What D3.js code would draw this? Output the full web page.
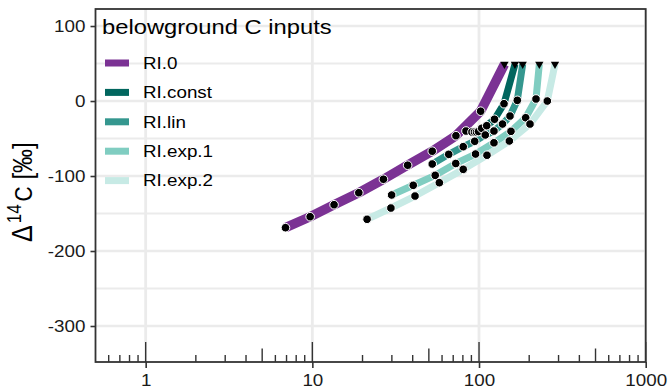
<!DOCTYPE html>
<html><head><meta charset="utf-8">
<script src="https://cdn.jsdelivr.net/npm/d3@7"></script>
<style>
body{margin:0;background:#fff;}
svg{display:block;font-family:"Liberation Sans",Arial,Helvetica,sans-serif;}
</style>
</head><body>
<svg id="chart" width="669" height="392"></svg>
<script>
// ---- data ----
const seriesNames = ["RI.0", "RI.const", "RI.lin", "RI.exp.1", "RI.exp.2"];
const seriesColors = ["#7b3294", "#01665e", "#35978f", "#80cdc1", "#c7eae5"];

const ageRI0      = [6.9, 9.7, 13.5, 19.0, 26.7, 37.3, 52.4, 72.7, 102.3];
const d14cRI0     = [-168.9, -154.3, -138.3, -122.3, -104.3, -85.6, -66.9, -46.3, -13.6];
const ageRIconst  = [83.5, 90.7, 93.9, 96.6, 99.3, 103.8, 111.2, 123.8, 141.2];
const d14cRIconst = [-40.0, -41.3, -41.3, -41.3, -40.7, -36.4, -32.9, -24.3, -3.6];
const ageRIlin    = [52.4, 65.8, 80.4, 94.2, 109.0, 122.9, 138.3, 153.4, 169.7];
const d14cRIlin   = [-84.0, -71.1, -60.9, -53.7, -45.3, -40.0, -30.7, -20.0, 0.9];
const ageRIexp1   = [29.9, 40.3, 54.6, 72.5, 95.3, 122.9, 155.5, 190.5, 219.7];
const d14cRIexp1  = [-125.3, -112.4, -99.1, -83.3, -70.7, -55.7, -40.4, -22.3, 2.7];
const ageRIexp2   = [21.3, 29.6, 41.3, 57.8, 80.4, 111.6, 152.0, 202.2, 256.8];
const d14cRIexp2  = [-157.7, -142.7, -126.7, -108.9, -91.1, -72.3, -53.3, -30.7, 0.0];

// end markers (triangles)
const endAge  = [142.1, 164.3, 182.8, 230.0, 285.6];
const endD14C = [49, 49, 49, 49, 49];

const xTicks = [1, 10, 100, 1000];
const yTicks = [100, 0, -100, -200, -300];
const yMinorGrid = [50, -50, -150, -250];

const ages = [ageRI0, ageRIconst, ageRIlin, ageRIexp1, ageRIexp2];
const d14cs = [d14cRI0, d14cRIconst, d14cRIlin, d14cRIexp1, d14cRIexp2];
const series = seriesNames.map((name, i) => ({
  name, color: seriesColors[i],
  points: ages[i].map((a, j) => ({age: a, d14c: d14cs[i][j]})),
  end: {age: endAge[i], d14c: endD14C[i]}
}));

// ---- layout ----
const SX = 1.176; // horizontal glyph stretch of the reference rendering
const svg = d3.select("#chart");
const L = 95.5, R = 645.7, T = 9, B = 362;
const x = d3.scaleLog().domain([0.5, 1000]).range([L, R]);
const y = d3.scaleLinear().domain([-348, 122.7]).range([B, T]);

function stretch(sel) {
  sel.each(function () {
    const t = d3.select(this);
    const tx = +t.attr("x") || 0, ty = +t.attr("y") || 0;
    t.attr("x", 0).attr("y", 0).attr("transform", `translate(${tx},${ty}) scale(${SX},1)`);
  });
}

const grid = svg.append("g");
grid.selectAll("line.ymin").data(yMinorGrid).join("line")
  .attr("x1", L).attr("x2", R).attr("y1", d => y(d)).attr("y2", d => y(d))
  .attr("stroke", "#ebebeb").attr("stroke-width", 2.2);
grid.selectAll("line.ymaj").data(yTicks).join("line")
  .attr("x1", L).attr("x2", R).attr("y1", d => y(d)).attr("y2", d => y(d))
  .attr("stroke", "#ebebeb").attr("stroke-width", 2.6);
grid.selectAll("line.xmaj").data(xTicks).join("line")
  .attr("y1", T).attr("y2", B).attr("x1", d => x(d)).attr("x2", d => x(d))
  .attr("stroke", "#ebebeb").attr("stroke-width", 2.8);

// ---- series lines ----
const line = d3.line().x(d => x(d.age)).y(d => y(d.d14c));
const lineWidths = [9.5, 7, 7, 7, 7];
svg.append("g").selectAll("path").data(series).join("path")
  .attr("d", s => line([...s.points, s.end]))
  .attr("fill", "none")
  .attr("stroke", s => s.color)
  .attr("stroke-width", (s, i) => lineWidths[i])
  .attr("stroke-linejoin", "round");

// ---- points ----
const pts = svg.append("g");
series.forEach(s => {
  pts.append("g").selectAll("circle").data(s.points).join("circle")
    .attr("cx", d => x(d.age)).attr("cy", d => y(d.d14c)).attr("r", 4.3)
    .attr("fill", "#000").attr("stroke", "#fff").attr("stroke-width", 1);
});
// triangles
const tri = d3.symbol().type(d3.symbolTriangle).size(30);
svg.append("g").selectAll("path").data(series).join("path")
  .attr("d", tri)
  .attr("transform", s => `translate(${x(s.end.age)},${y(s.end.d14c)}) rotate(180)`)
  .attr("fill", "#000");

// ---- log ticks inside panel ----
const logTicks = [];
for (let e = -1; e <= 3; e++) {
  for (let k = 1; k <= 9; k++) {
    const v = k * Math.pow(10, e);
    if (v > 0.5 && v <= 1000) logTicks.push({v, len: k === 1 ? 20 : (k === 5 ? 13.5 : 7)});
  }
}
svg.append("g").selectAll("line").data(logTicks).join("line")
  .attr("x1", d => x(d.v)).attr("x2", d => x(d.v))
  .attr("y1", B).attr("y2", d => B - d.len)
  .attr("stroke", "#333").attr("stroke-width", 1.4);

// ---- panel border ----
svg.append("rect").attr("x", L).attr("y", T).attr("width", R - L).attr("height", B - T)
  .attr("fill", "none").attr("stroke", "#333").attr("stroke-width", 1.8);

// ---- axes ----
const xAxis = svg.append("g").attr("transform", `translate(0,${B})`)
  .call(d3.axisBottom(x).tickValues(xTicks).tickFormat(d3.format("d")).tickSize(6).tickPadding(7));
const yAxis = svg.append("g").attr("transform", `translate(${L},0)`)
  .call(d3.axisLeft(y).tickValues(yTicks).tickFormat(d => d).tickSize(5).tickPadding(5));
[xAxis, yAxis].forEach(a => {
  a.select(".domain").remove();
  a.selectAll(".tick line").attr("stroke", "#333").attr("stroke-width", 1.6);
  a.selectAll(".tick text").attr("fill", "#1a1a1a").style("font-size", "16px")
    .style("font-family", '"Liberation Sans",Arial,sans-serif')
    .call(stretch);
});

// ---- y axis title ----
const yt = svg.append("text")
  .attr("transform", `translate(32,242) rotate(-90) scale(1,${SX})`)
  .attr("text-anchor", "start").attr("fill", "#000").style("font-size", "21px");
yt.append("tspan").text("Δ").style("font-size", "25px");
yt.append("tspan").text("14").style("font-size", "17px").attr("dx", 2).attr("dy", -9);
yt.append("tspan").text("C").attr("dx", 3).attr("dy", 9);
yt.append("tspan").text(" [‰]").style("font-size", "24px");

// ---- legend ----
const leg = svg.append("g");
leg.append("text").attr("x", 102).attr("y", 33.5).text("belowground C inputs")
  .attr("fill", "#000").style("font-size", "20.2px").call(stretch);
const rowY = i => 63 + i * 29.4;
leg.selectAll("rect").data(series).join("rect")
  .attr("x", 105).attr("y", (s, i) => rowY(i) - 3.5).attr("width", 24).attr("height", 7)
  .attr("fill", s => s.color);
leg.selectAll("text.lab").data(series).join("text").attr("class", "lab")
  .attr("x", 143).attr("y", (s, i) => rowY(i)).attr("dy", "0.36em")
  .text(s => s.name).attr("fill", "#000").style("font-size", "16px").call(stretch);
</script>
</body></html>
